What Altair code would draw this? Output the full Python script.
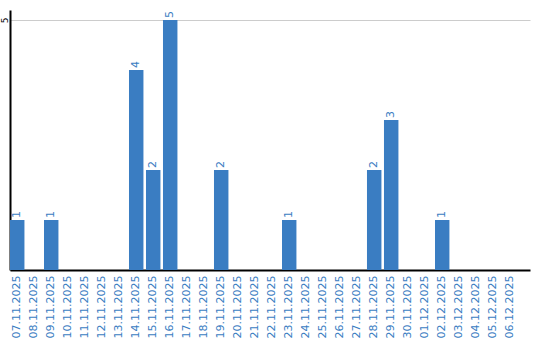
import altair as alt
import pandas as pd

dates = ["07.11.2025", "08.11.2025", "09.11.2025", "10.11.2025", "11.11.2025",
         "12.11.2025", "13.11.2025", "14.11.2025", "15.11.2025", "16.11.2025",
         "17.11.2025", "18.11.2025", "19.11.2025", "20.11.2025", "21.11.2025",
         "22.11.2025", "23.11.2025", "24.11.2025", "25.11.2025", "26.11.2025",
         "27.11.2025", "28.11.2025", "29.11.2025", "30.11.2025", "01.12.2025",
         "02.12.2025", "03.12.2025", "04.12.2025", "05.12.2025", "06.12.2025"]
counts = [1, 0, 1, 0, 0, 0, 0, 4, 2, 5,
          0, 0, 2, 0, 0, 0, 1, 0, 0, 0,
          0, 2, 3, 0, 0, 1, 0, 0, 0, 0]

df = pd.DataFrame({"date": dates, "count": counts})
BLUE = "#3a7dc2"
FONT = "DejaVu Sans"

x = alt.X("date:N", sort=dates, title=None,
          scale=alt.Scale(paddingInner=0.15, paddingOuter=0.37, align=0),
          axis=alt.Axis(labelAngle=-90, labelColor=BLUE, labelFontSize=11, labelFont=FONT,
                        ticks=False, labelPadding=5, domainColor="black", domainWidth=2,
                        grid=False))
y = alt.Y("count:Q", title=None,
          scale=alt.Scale(domain=[0, 5.2], nice=False),
          axis=alt.Axis(values=[5], labelAngle=-90, labelFontSize=9, labelFont=FONT,
                        labelColor="black", ticks=False, labelPadding=3,
                        labelBaseline="alphabetic", labelAlign="center",
                        domainColor="black", domainWidth=2, gridColor="#cccccc"))

base = alt.Chart(df)
bars = base.mark_bar(color=BLUE).encode(x=x, y=y)
labels = base.transform_filter("datum.count > 0").mark_text(
    angle=270, align="left", baseline="middle", dx=2, color=BLUE, fontSize=11, font=FONT
).encode(x=alt.X("date:N", sort=dates), y="count:Q", text="count:Q")

chart = (bars + labels).properties(
    width=520, height=260,
    autosize=alt.AutoSizeParams(type="none"),
    padding={"left": 10, "top": 10, "right": 10, "bottom": 70},
).configure_view(stroke=None)

chart.save("out.html", embed_options={"renderer": "svg", "actions": False})
